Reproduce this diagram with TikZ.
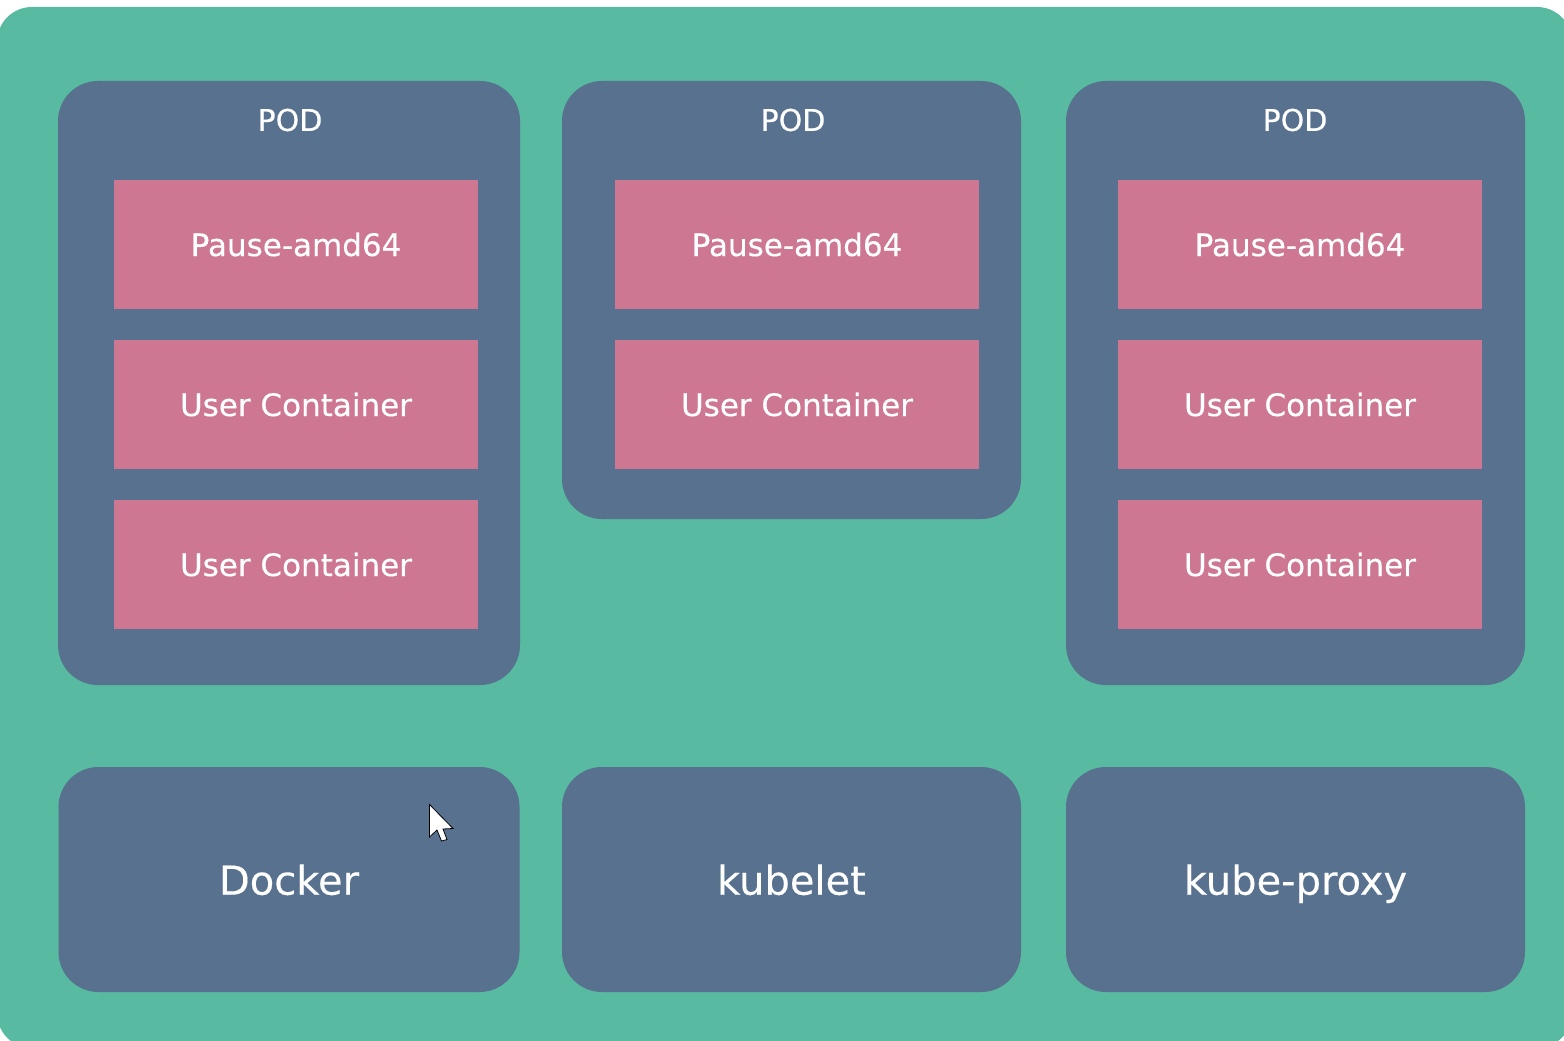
\documentclass[tikz,border=0pt]{standalone}
\usepackage{fontspec}
\setmainfont{DejaVu Sans}[FakeBold=0.3]
\definecolor{bggreen}{RGB}{88,186,161}
\definecolor{slate}{RGB}{87,113,143}
\definecolor{pinkc}{RGB}{206,119,146}
\tikzset{
  podbox/.style={fill=slate, rounded corners=40pt, inner sep=0pt},
  ctr/.style={fill=pinkc, inner sep=0pt, minimum width=364pt, minimum height=129pt,
    text=white, font=\fontsize{31}{37}\selectfont},
  podlabel/.style={text=white, inner sep=0pt, font=\fontsize{30}{36}\selectfont},
  svc/.style={fill=slate, rounded corners=40pt, inner sep=0pt, minimum width=461pt,
    minimum height=225pt, text=white, text depth=0pt, font=\fontsize{40}{48}\selectfont},
}
\begin{document}
\begin{tikzpicture}[x=1pt,y=-1pt]
\useasboundingbox (0,0) rectangle (1564,1041);
\fill[white] (0,0) rectangle (1564,1041);
\fill[bggreen, rounded corners=35pt] (-3,7) rectangle (1572,1048);
% pods
\node[podbox, minimum width=462pt, minimum height=604pt] (pod1) at (289,383) {};
\node[podbox, minimum width=459pt, minimum height=438pt] (pod2) at (791.5,300) {};
\node[podbox, minimum width=459pt, minimum height=604pt] (pod3) at (1295.5,383) {};
\node[podlabel] (l1) at (290,120) {POD};
\node[podlabel] (l2) at (793,120) {POD};
\node[podlabel] (l3) at (1295,120) {POD};
% containers
\node[ctr] (p1) at (296,244.5) {Pause-amd64};
\node[ctr] (u11) at (296,404.5) {User Container};
\node[ctr] (u12) at (296,564.5) {User Container};
\node[ctr] (p2) at (797,244.5) {Pause-amd64};
\node[ctr] (u21) at (797,404.5) {User Container};
\node[ctr] (p3) at (1300,244.5) {Pause-amd64};
\node[ctr] (u31) at (1300,404.5) {User Container};
\node[ctr] (u32) at (1300,564.5) {User Container};
% services
\node[svc] (docker) at (289,879.5) {Docker};
\node[svc, minimum width=459pt] (kubelet) at (791.5,879.5) {kubelet};
\node[svc, minimum width=459pt] (proxy) at (1295.5,879.5) {kube-proxy};
% cursor
\draw[fill=white, draw=black, line width=0.8pt, line join=miter]
  (429.5,804.5) -- (429.5,837) -- (437,830) -- (441.5,841) -- (447,839.5)
  -- (443,829) -- (453,828.5) -- cycle;
\end{tikzpicture}
\end{document}
